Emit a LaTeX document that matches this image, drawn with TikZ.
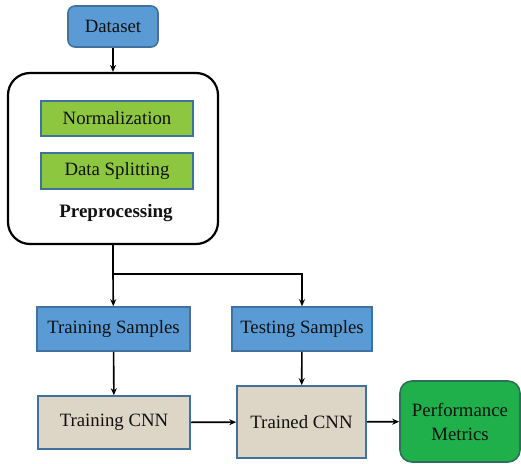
\documentclass[tikz,border=0pt]{standalone}
\usepackage{fontspec}
\setmainfont{Liberation Serif}
\usetikzlibrary{arrows.meta}
\definecolor{bluefill}{HTML}{5B9BD5}
\definecolor{blueline}{HTML}{41719C}
\definecolor{greenfill}{HTML}{8DC63F}
\definecolor{beige}{HTML}{DDD5C6}
\definecolor{perffill}{HTML}{20B04B}
\definecolor{perfline}{HTML}{2E6E5A}
\definecolor{txt}{HTML}{111111}
\tikzset{
  box/.style={draw=blueline, line width=1.6pt, align=center, inner sep=0pt, text=txt,
    font=\fontsize{18.8}{21}\selectfont},
  bluebox/.style={box, fill=bluefill},
  greenbox/.style={box, fill=greenfill},
  cnnbox/.style={box, fill=beige},
  perfbox/.style={box, fill=perffill, draw=perfline, rounded corners=12pt,
    font=\fontsize{18.8}{24}\selectfont},
  conn/.style={line width=1.6pt, -{Stealth[length=7pt,width=6pt]}},
}
\begin{document}
\begin{tikzpicture}[x=1pt,y=-1pt]
\useasboundingbox (0,0) rectangle (521,463);
\node[bluebox, rounded corners=7pt, minimum width=90pt, minimum height=41pt] (ds) at (113,26.5) {Dataset};
\node[draw=black, line width=2.2pt, rounded corners=22pt, minimum width=210pt, minimum height=171pt, inner sep=0pt] (pre) at (113,158.5) {};
\node[greenbox, minimum width=152pt, minimum height=35pt] (norm) at (117,118.5) {Normalization};
\node[greenbox, minimum width=152pt, minimum height=36pt] (split) at (117,171) {Data Splitting};
\node[text=txt, font=\fontsize{19}{21}\selectfont\bfseries] (prelab) at (116,213) {Preprocessing};
\coordinate (j) at (113,274);
\node[bluebox, minimum width=153pt, minimum height=44pt] (trs) at (113.5,329) {Training Samples};
\node[bluebox, minimum width=140pt, minimum height=44pt] (tes) at (302,329) {Testing Samples};
\node[cnnbox, minimum width=152pt, minimum height=53pt] (trc) at (114,422.5) {Training CNN};
\node[cnnbox, minimum width=129pt, minimum height=72pt] (tdc) at (301.5,422) {Trained CNN};
\node[perfbox, minimum width=120pt, minimum height=81pt] (perf) at (460,421.5) {Performance\\Metrics};
\draw[conn] (ds) -- (pre);
\draw[line width=1.6pt] (pre.south) -- (j);
\draw[conn] (j) -- (trs);
\draw[conn] (j) -| (tes);
\draw[conn] (trs) -- (trc);
\draw[conn] (tes) -- (tdc);
\draw[conn] (trc) -- (tdc);
\draw[conn] (tdc) -- (perf);
\end{tikzpicture}
\end{document}
